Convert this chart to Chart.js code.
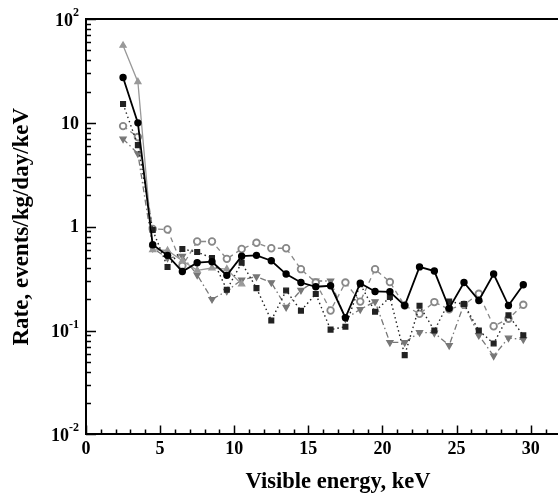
<!DOCTYPE html>
<html>
<head>
<meta charset="utf-8">
<script src="https://cdn.jsdelivr.net/npm/chart.js@4/dist/chart.umd.min.js"></script>
<style>
html, body { margin: 0; padding: 0; background: #fff; overflow: hidden; }
#wrap { width: 600px; height: 499px; }
</style>
</head>
<body>
<div id="wrap"><canvas id="rateChart" width="600" height="499"></canvas></div>
<script>
// bin centres, keV
const energy = [2.5, 3.5, 4.5, 5.5, 6.5, 7.5, 8.5, 9.5, 10.5, 11.5, 12.5, 13.5, 14.5, 15.5,
  16.5, 17.5, 18.5, 19.5, 20.5, 21.5, 22.5, 23.5, 24.5, 25.5, 26.5, 27.5, 28.5, 29.5];

// rates, events/kg/day/keV
const rateCircle = [27.3, 10, 0.67, 0.53, 0.37, 0.45, 0.46, 0.34, 0.52, 0.53, 0.47, 0.35, 0.29, 0.264,
  0.27, 0.133, 0.286, 0.238, 0.236, 0.174, 0.41, 0.374, 0.164, 0.29, 0.195, 0.35, 0.174, 0.276];
const rateTriUp = [55.6, 24.8, 0.6, 0.59, 0.47, 0.38, 0.40, 0.39, 0.28];
const rateSquare = [15.2, 6.1, 0.93, 0.41, 0.61, 0.57, 0.50, 0.247, 0.45, 0.256, 0.125, 0.243, 0.155, 0.225,
  0.102, 0.109, 0.28, 0.152, 0.21, 0.058, 0.173, 0.1, 0.19, 0.18, 0.1, 0.075, 0.14, 0.09];
const rateOpen = [9.3, 7.3, 0.95, 0.94, 0.42, 0.72, 0.72, 0.49, 0.61, 0.70, 0.62, 0.62, 0.39, 0.29,
  0.156, 0.29, 0.19, 0.39, 0.293, 0.174, 0.145, 0.188, 0.16, 0.177, 0.226, 0.11, 0.13, 0.177];
const rateTriDown = [7.0, 5.06, 0.62, 0.5, 0.52, 0.344, 0.2, 0.24, 0.308, 0.33, 0.29, 0.168, 0.245, 0.3,
  0.3, 0.13, 0.16, 0.19, 0.077, 0.077, 0.096, 0.095, 0.072, 0.18, 0.09, 0.057, 0.085, 0.082];

const yDecades = [-2, -1, 0, 1, 2];

function pts(ys) {
  return ys.map((y, i) => ({ x: energy[i], y: y }));
}

const font = 'Liberation Serif, Times New Roman, serif';

// ticks pointing inward, labels with exponents, top frame line
const axisDeco = {
  id: 'axisDeco',
  afterDraw(chart) {
    const ctx = chart.ctx;
    const xs = chart.scales.x, ys = chart.scales.y;
    const a = chart.chartArea;
    ctx.save();
    ctx.strokeStyle = '#000';
    ctx.lineWidth = 1.5;
    ctx.beginPath();
    for (let v = 0; v <= 34; v++) {
      const px = Math.round(xs.getPixelForValue(v)) + 0.5;
      ctx.moveTo(px, a.bottom);
      ctx.lineTo(px, a.bottom - (v % 5 === 0 ? 9 : 5));
    }
    yDecades.forEach(d => {
      for (let k = 1; k <= 9; k++) {
        if (d === 2 && k > 1) break;
        const py = Math.round(ys.getPixelForValue(k * Math.pow(10, d))) + 0.5;
        ctx.moveTo(a.left, py);
        ctx.lineTo(a.left + (k === 1 ? 10 : 5), py);
      }
    });
    ctx.stroke();

    ctx.lineWidth = 2;
    ctx.beginPath();
    ctx.moveTo(a.left, a.top);
    ctx.lineTo(chart.width, a.top);
    ctx.stroke();

    ctx.fillStyle = '#000';
    ctx.textBaseline = 'middle';
    yDecades.forEach(d => {
      const py = ys.getPixelForValue(Math.pow(10, d));
      const right = a.left - 7;
      if (d === 0 || d === 1) {
        ctx.font = 'bold 18px ' + font;
        ctx.textAlign = 'right';
        ctx.fillText(d === 0 ? '1' : '10', right, py + 1);
      } else {
        const ex = String(d);
        ctx.font = 'bold 12px ' + font;
        const ew = ctx.measureText(ex).width;
        ctx.textAlign = 'left';
        ctx.fillText(ex, right - ew, py - 6);
        ctx.font = 'bold 18px ' + font;
        ctx.textAlign = 'right';
        ctx.fillText('10', right - ew, py + 2);
      }
    });
    ctx.restore();
  }
};

new Chart(document.getElementById('rateChart'), {
  type: 'line',
  data: {
    datasets: [{
      label: 'circles',
      data: pts(rateCircle),
      borderColor: '#000',
      backgroundColor: '#000',
      borderWidth: 1.8,
      pointStyle: 'circle',
      pointRadius: 2.8
    }, {
      label: 'triangles up',
      data: pts(rateTriUp),
      borderColor: '#999',
      backgroundColor: '#999',
      borderWidth: 1.3,
      pointStyle: 'triangle',
      pointRadius: 3.5
    }, {
      label: 'squares',
      data: pts(rateSquare),
      borderColor: '#222',
      backgroundColor: '#222',
      borderWidth: 1.4,
      borderDash: [1.5, 3],
      pointStyle: 'rect',
      pointRadius: 3.3
    }, {
      label: 'open circles',
      data: pts(rateOpen),
      borderColor: '#888',
      backgroundColor: '#fff',
      borderWidth: 1.3,
      borderDash: [5, 4],
      pointStyle: 'circle',
      pointRadius: 3.3,
      pointBorderWidth: 1.8
    }, {
      label: 'triangles down',
      data: pts(rateTriDown),
      borderColor: '#777',
      backgroundColor: '#777',
      borderWidth: 1.3,
      borderDash: [6, 3, 1.5, 3],
      pointStyle: 'triangle',
      pointRotation: 180,
      pointRadius: 3.5
    }]
  },
  options: {
    responsive: false,
    animation: false,
    layout: { padding: { top: 19, right: 10, left: 0, bottom: 0 } },
    plugins: { legend: { display: false }, tooltip: { enabled: false } },
    elements: { line: { tension: 0, fill: false } },
    scales: {
      x: {
        type: 'linear',
        min: 0,
        max: 34,
        grid: { display: false, drawTicks: false },
        border: { display: true, color: '#000', width: 2 },
        ticks: {
          stepSize: 5,
          padding: 4,
          color: '#000',
          font: { family: font, size: 18, weight: 'bold' },
          callback: v => (v % 5 === 0 && v <= 30) ? String(v) : ''
        },
        title: {
          display: true,
          text: 'Visible energy, keV',
          color: '#000',
          font: { family: font, size: 22.5, weight: 'bold' },
          padding: { top: 5, bottom: 3 }
        }
      },
      y: {
        type: 'logarithmic',
        min: 0.01,
        max: 100,
        grid: { display: false, drawTicks: false },
        border: { display: true, color: '#000', width: 2 },
        ticks: { display: false },
        title: {
          display: true,
          text: 'Rate, events/kg/day/keV',
          color: '#000',
          font: { family: font, size: 23, weight: 'bold' },
          padding: { top: 8, bottom: 0 }
        },
        afterFit: s => { s.width = 86; }
      }
    }
  },
  plugins: [axisDeco]
});
</script>
</body>
</html>
